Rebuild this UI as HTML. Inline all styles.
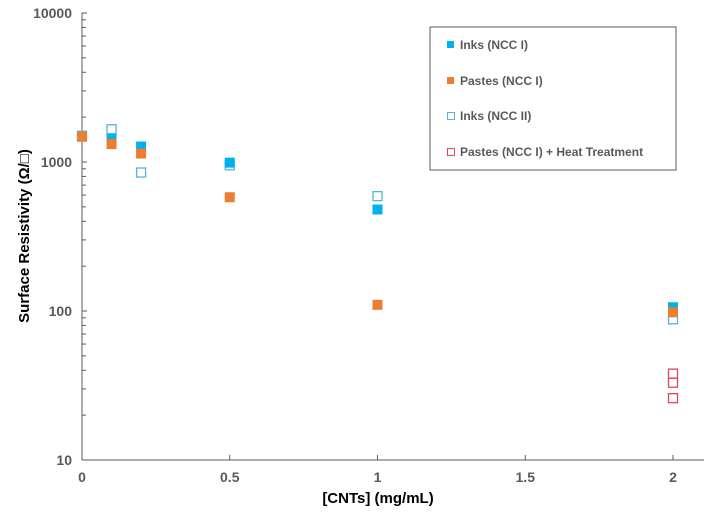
<!DOCTYPE html>
<html><head><meta charset="utf-8"><style>
body{margin:0;background:#fff;font-family:"Liberation Sans",Arial,sans-serif}
svg text{font-family:"Liberation Sans",Arial,sans-serif;font-weight:bold;fill:#595959}
</style></head><body>
<svg id="chart" width="714" height="523" xmlns="http://www.w3.org/2000/svg">
<g id="axes"></g>
<g id="marks"></g>
<text transform="translate(29,236) rotate(-90)" text-anchor="middle" font-size="15" style="fill:#000">Surface Resistivity (Ω/□)</text>
<text x="378" y="503" text-anchor="middle" font-size="15" style="fill:#000">[CNTs] (mg/mL)</text>
<g>
<rect x="430" y="27" width="246" height="143" fill="#fff" stroke="#595959" stroke-width="1"/>
<g><rect x="447" y="41" width="7" height="7" fill="#00B0F0"/><text x="460" y="49" font-size="12">Inks (NCC I)</text></g>
<g><rect x="447" y="77" width="7" height="7" fill="#ED7D31"/><text x="460" y="85" font-size="12">Pastes (NCC I)</text></g>
<g><rect x="447.5" y="112.5" width="7" height="7" fill="none" stroke="#4BB8D8"/><text x="460" y="120" font-size="12">Inks (NCC II)</text></g>
<g><rect x="447.5" y="148.5" width="7" height="7" fill="none" stroke="#E04856"/><text x="460" y="156" font-size="12">Pastes (NCC I) + Heat Treatment</text></g>
</g>
</svg>
<script>
const xTicks=[0,0.5,1,1.5,2];
const yTicks=[10,100,1000,10000];
const inksX=[0,0.1,0.2,0.5,1,2];
const inksY=[1480,1430,1270,990,480,106];
const pastesX=[0,0.1,0.2,0.5,1,2];
const pastesY=[1480,1320,1140,580,110,98];
const inks2X=[0,0.1,0.2,0.5,1,2];
const inks2Y=[1500,1660,850,950,590,88];
const heatX=[2,2,2];
const heatY=[38,33,26];

const X0=82,X2=673,XEND=704,Y0=460,Y1=13;
const xs=v=>X0+(v/2)*(X2-X0);
const ys=v=>Y0-(Math.log10(v)-1)/3*(Y0-Y1);
const NS="http://www.w3.org/2000/svg";
function mk(tag,attrs,parent){const e=document.createElementNS(NS,tag);for(const k in attrs)e.setAttribute(k,attrs[k]);parent.appendChild(e);return e;}
const ax=document.getElementById('axes');
let l=mk('line',{x1:X0,y1:Y1,x2:X0,y2:Y0,stroke:'#595959','stroke-width':1},ax);


l=mk('line',{x1:X0,y1:Y0,x2:XEND,y2:Y0,stroke:'#595959','stroke-width':1},ax);


for(let d=1;d<=3;d++){for(let m=1;m<=10;m++){const v=Math.pow(10,d)*m;const y=ys(v);
 const t=mk('line',{x1:X0,y1:y,x2:X0+(m===1||m===10?5:4),y2:y,stroke:'#595959'},ax);
 
 }}
yTicks.forEach(v=>{const t=mk('text',{x:X0-10,y:ys(v)+5,'text-anchor':'end','font-size':14},ax);t.textContent=v;
 
 });
xTicks.forEach(v=>{const x=xs(v);const k=mk('line',{x1:x,y1:Y0,x2:x,y2:Y0-5,stroke:'#595959'},ax);
 
 
 const t=mk('text',{x:x,y:Y0+22,'text-anchor':'middle','font-size':14},ax);t.textContent=v;
 
 });
const mg=document.getElementById('marks');
function series(xa,ya,fill,stroke,name){xa.forEach((x,i)=>{const cx=xs(x),cy=ys(ya[i]);
 const r=mk('rect',fill?{x:cx-5,y:cy-5,width:10,height:10,fill:fill}:{x:cx-4.5,y:cy-4.5,width:9,height:9,fill:'none',stroke:stroke,'stroke-width':1.3},mg);
 
 });}
series(inks2X,inks2Y,null,'#4BB8D8','point-inks-ncc2');
series(inksX,inksY,'#00B0F0',null,'point-inks-ncc1');
series(pastesX,pastesY,'#ED7D31',null,'point-pastes-ncc1');
series(heatX,heatY,null,'#E04856','point-pastes-heat');
</script>
</body></html>
